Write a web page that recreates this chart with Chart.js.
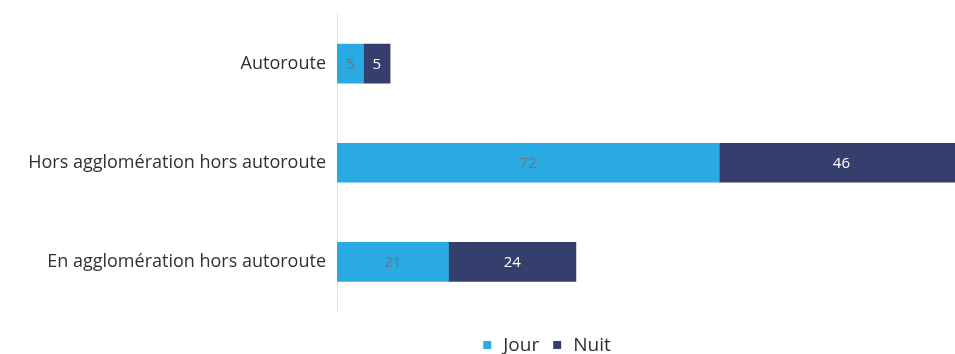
<!DOCTYPE html>
<html lang="fr">
<head>
<meta charset="utf-8">
<title>Jour / Nuit</title>
<script src="https://cdn.jsdelivr.net/npm/chart.js@4/dist/chart.umd.min.js"></script>
<style>
  html, body { margin: 0; padding: 0; background: #fff; }
  #wrap { position: relative; width: 955px; height: 354px; }
</style>
</head>
<body>
<div id="wrap"><canvas id="chart"></canvas></div>
<script>
  'use strict';

  var categories = [
    'Autoroute',
    'Hors agglomération hors autoroute',
    'En agglomération hors autoroute',
  ];
  var jour = [5, 72, 21];
  var nuit = [5, 46, 24];
  var seriesNames = ['Jour', 'Nuit'];
  var xMax = 116.4;

  var FONT = '"Open Sans", "DejaVu Sans", sans-serif';

  // writes each segment's value in the middle of its bar
  var valueLabels = {
    id: 'valueLabels',
    afterDatasetsDraw: function (chart) {
      var ctx = chart.ctx;
      ctx.save();
      ctx.font = '15px ' + FONT;
      ctx.textAlign = 'center';
      ctx.textBaseline = 'middle';
      chart.data.datasets.forEach(function (ds, i) {
        var meta = chart.getDatasetMeta(i);
        meta.data.forEach(function (bar, j) {
          var p = bar.getCenterPoint();
          ctx.fillStyle = ds.labelColor;
          ctx.fillText(String(ds.data[j]), p.x, p.y + 1);
        });
      });
      ctx.restore();
    },
  };

  // small square + name for each series, in one row under the plot
  var bottomLegend = {
    id: 'bottomLegend',
    afterDraw: function (chart, args, opts) {
      var ctx = chart.ctx;
      var box = 8;
      var gapText = 12;
      var gapItem = 14;
      ctx.save();
      ctx.font = '19px ' + FONT;
      ctx.textBaseline = 'middle';
      var items = chart.data.datasets.map(function (ds) {
        return { ds: ds, w: ctx.measureText(ds.label).width };
      });
      var total = items.reduce(function (s, it) {
        return s + box + gapText + it.w;
      }, 0) + gapItem * (items.length - 1);
      var x = opts.centerX - total / 2;
      var y = opts.y;
      items.forEach(function (it) {
        ctx.fillStyle = it.ds.backgroundColor;
        ctx.fillRect(x, y - box / 2, box, box);
        x += box + gapText;
        ctx.fillStyle = '#303030';
        ctx.fillText(it.ds.label, x, y + 1);
        x += it.w + gapItem;
      });
      ctx.restore();
    },
  };

  new Chart(document.getElementById('chart'), {
    type: 'bar',
    data: {
      labels: categories,
      datasets: [
        {
          label: seriesNames[0],
          data: jour,
          backgroundColor: '#2aaae2',
          labelColor: '#62788a',
          barThickness: 39,
        },
        {
          label: seriesNames[1],
          data: nuit,
          backgroundColor: '#353f6d',
          labelColor: '#ffffff',
          barThickness: 39,
        },
      ],
    },
    options: {
      indexAxis: 'y',
      responsive: true,
      maintainAspectRatio: false,
      animation: false,
      layout: { padding: { left: 0, right: 0, top: 14, bottom: 42.5 } },
      scales: {
        x: {
          display: false,
          stacked: true,
          min: 0,
          max: xMax,
        },
        y: {
          stacked: true,
          grid: { display: false, drawTicks: false },
          border: { display: true, color: '#e4e4e4', width: 1 },
          ticks: {
            color: '#303030',
            padding: 11,
            font: { family: FONT, size: 18 },
          },
          afterFit: function (scale) {
            scale.width = 337;
            scale.paddingTop = 0;
            scale.paddingBottom = 0;
          },
        },
      },
      plugins: {
        legend: { display: false },
        tooltip: { enabled: false },
        bottomLegend: { centerX: 547, y: 345 },
      },
    },
    plugins: [valueLabels, bottomLegend],
  });
</script>
</body>
</html>
